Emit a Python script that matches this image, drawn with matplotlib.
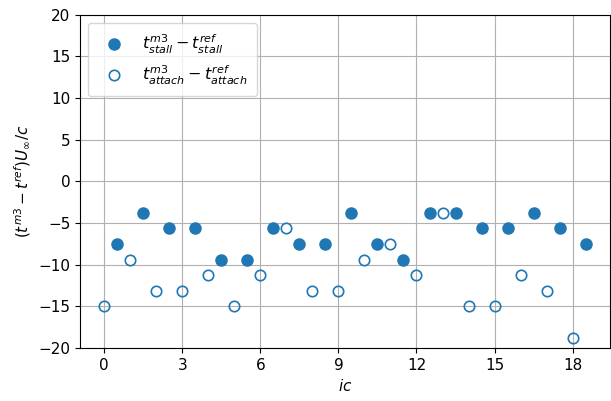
import numpy as np
import matplotlib
matplotlib.use("Agg")
import matplotlib.pyplot as plt
from matplotlib.ticker import MultipleLocator

# stall offsets at half-integer cycles, attach offsets at integer cycles
ic_stall = np.arange(0.5, 19, 1.0)
dt_stall = [-7.5, -3.75, -5.625, -5.625, -9.375, -9.375, -5.625, -7.5, -7.5, -3.75,
            -7.5, -9.375, -3.75, -3.75, -5.625, -5.625, -3.75, -5.625, -7.5]
ic_attach = np.arange(0, 19, 1.0)
dt_attach = [-15.0, -9.375, -13.125, -13.125, -11.25, -15.0, -11.25, -5.625, -13.125, -13.125,
             -9.375, -7.5, -11.25, -3.75, -15.0, -15.0, -11.25, -13.125, -18.75]

plt.rcParams['font.size'] = 11

fig, ax = plt.subplots(figsize=(6.11, 4.01), dpi=100)
fig.subplots_adjust(left=0.131, right=0.998, top=0.963, bottom=0.132)

ax.plot(ic_stall, dt_stall, 'o', color='C0', ms=8,
        label=r'$t^{m3}_{stall}-t^{ref}_{stall}$')
ax.plot(ic_attach, dt_attach, 'o', color='C0', mfc='none', mew=1.2, ms=7.5,
        label=r'$t^{m3}_{attach}-t^{ref}_{attach}$')

ax.set_ylim(-20, 20)
ax.xaxis.set_major_locator(MultipleLocator(3))
ax.yaxis.set_major_locator(MultipleLocator(5))
ax.grid(True)
ax.set_xlabel(r'$ic$')
ax.set_ylabel(r'$(t^{m3}-t^{ref})U_\infty/c$')
ax.legend(loc='upper left', fontsize=11.5, borderpad=0.6)

fig.savefig('out.png', dpi=100)
